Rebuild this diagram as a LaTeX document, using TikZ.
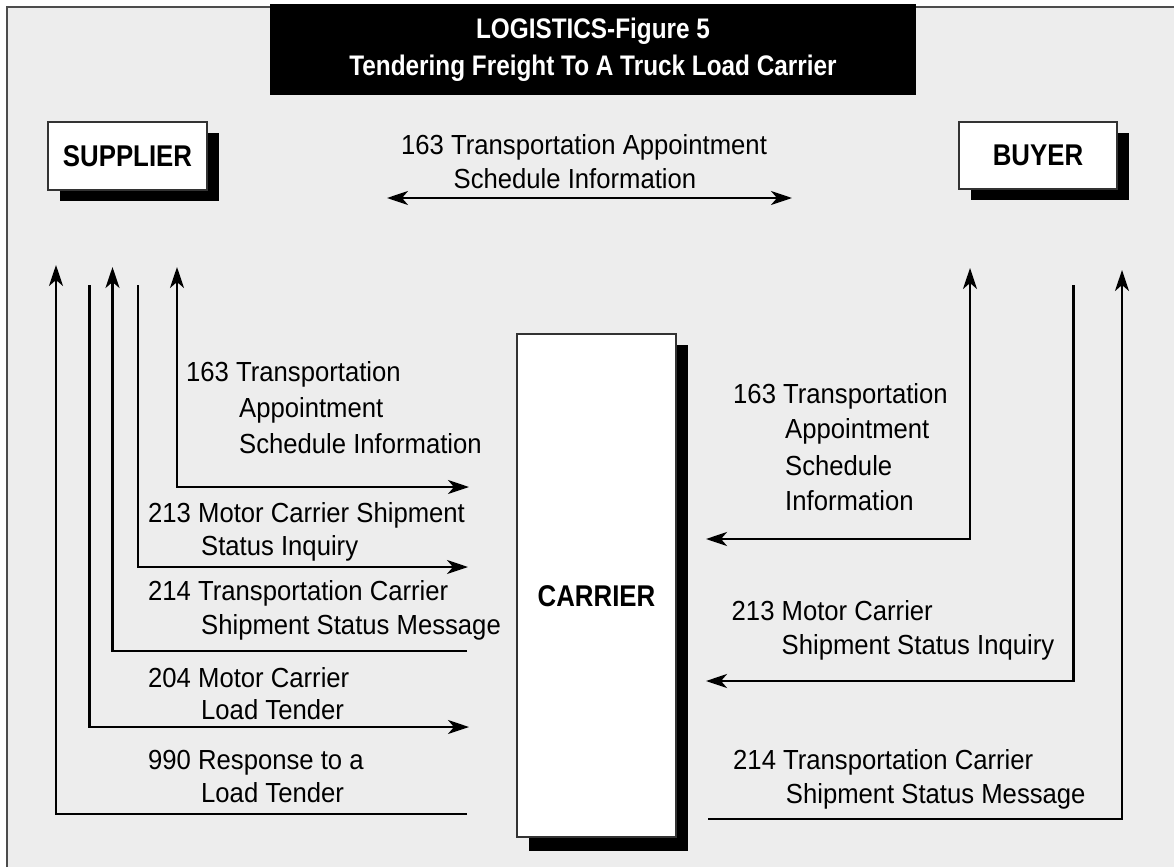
\documentclass[tikz,border=0pt]{standalone}
\usepackage{fontspec}
\setmainfont{Liberation Sans}[FakeStretch=0.93]
\newfontfamily\condbf{Liberation Sans}[FakeStretch=0.86]
\usetikzlibrary{arrows.meta,shadows}
\definecolor{bg}{HTML}{EDEDED}
\begin{document}
\begin{tikzpicture}[x=1pt,y=-1pt,
  >={Stealth[length=21pt,width=14pt,inset=6pt]},
  lbl/.style={anchor=base west,inner sep=0pt,font=\fontsize{27.6}{30}\selectfont},
  party/.style={draw=black!80,line width=1.3pt,fill=white,inner sep=0pt,
    font=\condbf\bfseries\fontsize{30}{34}\selectfont,
    drop shadow={shadow xshift=12pt,shadow yshift=-11pt,fill=black,opacity=1}},
  ttl/.style={anchor=base,inner sep=0pt,text=white,font=\condbf\bfseries\fontsize{28.3}{32}\selectfont},
  flow/.style={line width=2.6pt}
]
\useasboundingbox (0,0) rectangle (1174,867);
\fill[bg] (7,7) rectangle (1174,867);
\draw[black!70,line width=1.3pt] (7,867) -- (7,7) -- (1174,7);

% title
\node[fill=black,minimum width=646pt,minimum height=91pt,inner sep=0pt] (title) at (593,49.5) {};
\node[ttl] (t1) at (593,38) {LOGISTICS-Figure 5};
\node[ttl] (t2) at (593,75) {Tendering Freight To A Truck Load Carrier};

% parties
\node[party,minimum width=159pt,minimum height=68pt] (sup) at (127.5,156) {SUPPLIER};
\node[party,minimum width=158pt,minimum height=67pt] (buy) at (1038,155.5) {BUYER};
\node[party,minimum width=159pt,minimum height=503pt,drop shadow={shadow xshift=12pt,shadow yshift=-14pt,fill=black,opacity=1}] (car) at (596.5,585.5) {};
\node[anchor=base,inner sep=0pt,font=\condbf\bfseries\fontsize{30}{34}\selectfont] (cartxt) at (596.5,606) {CARRIER};

% top exchange
\coordinate (ta) at (387,198);
\coordinate (tb) at (792,198);
\draw[flow,<->] (ta) -- (tb);
\node[lbl] (top1) at (401,154) {163 Transportation Appointment};
\node[lbl] (top2) at (453.5,188) {Schedule Information};

% left side connectors
\coordinate (s163) at (177,267);   \coordinate (c163) at (469,487);
\coordinate (s213) at (138,285);   \coordinate (c213) at (468,567);
\coordinate (c214) at (467,651);   \coordinate (s214) at (112.5,267);
\coordinate (s204) at (89.5,285);  \coordinate (c204) at (469,727);
\coordinate (c990) at (467,814);   \coordinate (s990) at (56,265);
\draw[flow,<->] (s163) |- (c163);
\draw[flow,->] (s213) |- (c213);
\draw[flow,->] (c214) -| (s214);
\draw[flow,->] (s204) |- (c204);
\draw[flow,->] (c990) -| (s990);

% left labels
\node[lbl] (l1a) at (186,381) {163 Transportation};
\node[lbl] (l1b) at (239,417) {Appointment};
\node[lbl] (l1c) at (239,453) {Schedule Information};
\node[lbl] (l2a) at (148,522) {213 Motor Carrier Shipment};
\node[lbl] (l2b) at (201,555) {Status Inquiry};
\node[lbl] (l3a) at (148,600) {214 Transportation Carrier};
\node[lbl] (l3b) at (201,634) {Shipment Status Message};
\node[lbl] (l4a) at (148,687) {204 Motor Carrier};
\node[lbl] (l4b) at (201,719) {Load Tender};
\node[lbl] (l5a) at (148,769.5) {990 Response to a};
\node[lbl] (l5b) at (201,802) {Load Tender};

% right side connectors
\coordinate (r163t) at (970,268);   \coordinate (r163c) at (706,539);
\coordinate (r213t) at (1073.5,285); \coordinate (r213c) at (706,681);
\coordinate (r214c) at (708,819);   \coordinate (r214t) at (1122,270);
\draw[flow,<->] (r163t) |- (r163c);
\draw[flow,->] (r213t) |- (r213c);
\draw[flow,->] (r214c) -| (r214t);

% right labels
\node[lbl] (r1a) at (733,403) {163 Transportation};
\node[lbl] (r1b) at (785,438) {Appointment};
\node[lbl] (r1c) at (785,475) {Schedule};
\node[lbl] (r1d) at (785,510.5) {Information};
\node[lbl] (r2a) at (731.5,620) {213 Motor Carrier};
\node[lbl] (r2b) at (781.5,654.6) {Shipment Status Inquiry};
\node[lbl] (r3a) at (733,769) {214 Transportation Carrier};
\node[lbl] (r3b) at (785.7,803) {Shipment Status Message};
\end{tikzpicture}
\end{document}
